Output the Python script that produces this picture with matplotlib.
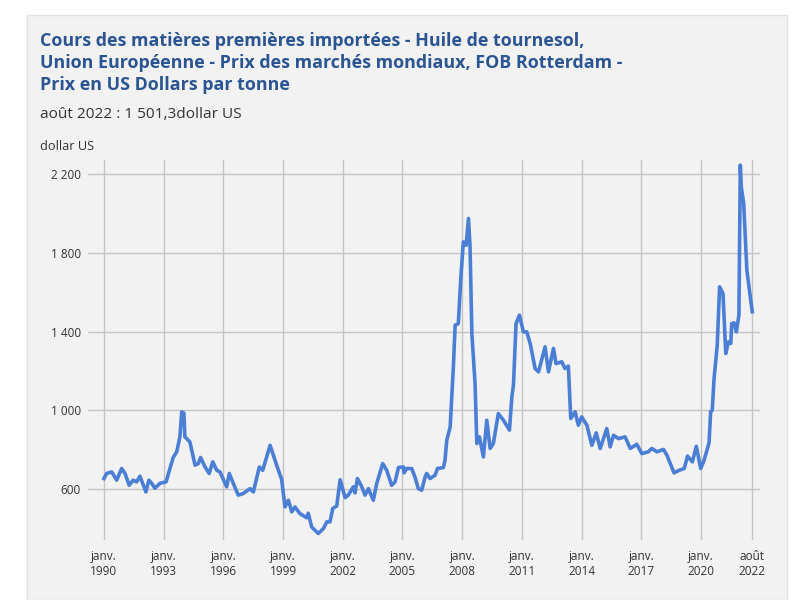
import matplotlib.pyplot as plt
from matplotlib.patches import Rectangle

# valeurs (annee decimale, dollar US)
annees = [1990.00, 1990.14, 1990.39, 1990.64, 1990.89, 1991.06, 1991.27, 1991.47, 1991.64, 1991.81,
          1992.11, 1992.26, 1992.40, 1992.56, 1992.82, 1993.12, 1993.32, 1993.48, 1993.66, 1993.82,
          1993.91, 1994.02, 1994.07, 1994.32, 1994.58, 1994.74, 1994.86, 1995.08, 1995.29, 1995.47,
          1995.67, 1995.83, 1996.17, 1996.30, 1996.54, 1996.75, 1997.00, 1997.34, 1997.51, 1997.81,
          1997.98, 1998.35, 1998.68, 1998.93, 1999.10, 1999.27, 1999.44, 1999.60, 1999.85, 2000.19,
          2000.27, 2000.44, 2000.77, 2001.03, 2001.20, 2001.36, 2001.50, 2001.70, 2001.87, 2002.12,
          2002.28, 2002.53, 2002.62, 2002.74, 2002.96, 2003.12, 2003.29, 2003.54, 2003.71, 2004.01,
          2004.21, 2004.46, 2004.63, 2004.80, 2005.05, 2005.08, 2005.22, 2005.47, 2005.63, 2005.80,
          2005.97, 2006.14, 2006.22, 2006.39, 2006.64, 2006.76, 2007.06, 2007.14, 2007.23, 2007.40,
          2007.56, 2007.65, 2007.81, 2007.93, 2008.06, 2008.20, 2008.32, 2008.40, 2008.49, 2008.65,
          2008.74, 2008.87, 2009.07, 2009.24, 2009.41, 2009.57, 2009.82, 2010.08, 2010.38, 2010.50,
          2010.58, 2010.71, 2010.88, 2011.08, 2011.25, 2011.42, 2011.67, 2011.84, 2012.17, 2012.34,
          2012.59, 2012.72, 2013.01, 2013.17, 2013.34, 2013.46, 2013.68, 2013.84, 2014.01, 2014.27,
          2014.52, 2014.74, 2014.94, 2015.27, 2015.44, 2015.61, 2015.86, 2016.19, 2016.45, 2016.78,
          2017.03, 2017.36, 2017.53, 2017.79, 2018.12, 2018.29, 2018.65, 2018.91, 2019.16, 2019.33,
          2019.57, 2019.77, 2019.99, 2020.16, 2020.41, 2020.49, 2020.57, 2020.66, 2020.82, 2020.94,
          2021.11, 2021.25, 2021.38, 2021.50, 2021.55, 2021.67, 2021.78, 2021.91, 2021.98, 2022.03,
          2022.15, 2022.31, 2022.58]
prix = [654, 680, 688, 646, 705, 680, 620, 646, 637, 666,
        586, 646, 630, 605, 630, 637, 705, 761, 790, 866,
        993, 986, 866, 840, 722, 730, 761, 713, 680, 739,
        696, 688, 612, 680, 620, 570, 578, 603, 586, 713,
        696, 823, 722, 650, 510, 544, 485, 510, 476, 455,
        478, 408, 375, 400, 434, 434, 502, 515, 648, 557,
        570, 612, 581, 654, 612, 570, 603, 544, 629, 730,
        696, 620, 637, 710, 713, 683, 705, 705, 662, 603,
        595, 662, 680, 654, 671, 705, 710, 747, 849, 916,
        1221, 1433, 1441, 1662, 1856, 1839, 1975, 1830, 1391, 1137,
        832, 866, 764, 950, 807, 832, 984, 950, 900, 1069,
        1128, 1441, 1484, 1399, 1399, 1340, 1213, 1196, 1323, 1196,
        1315, 1238, 1247, 1213, 1225, 959, 993, 925, 967, 925,
        823, 886, 807, 908, 815, 874, 857, 866, 807, 828,
        781, 790, 807, 790, 802, 773, 683, 696, 705, 768,
        739, 818, 705, 747, 836, 993, 1001, 1160, 1330, 1628,
        1594, 1289, 1348, 1340, 1441, 1445, 1399, 1484, 2246, 2135,
        2051, 1712, 1501.3]

ticks_x = [1990, 1993, 1996, 1999, 2002, 2005, 2008, 2011, 2014, 2017, 2020, 2022.583]
labels_x = ["janv.\n1990", "janv.\n1993", "janv.\n1996", "janv.\n1999", "janv.\n2002",
            "janv.\n2005", "janv.\n2008", "janv.\n2011", "janv.\n2014", "janv.\n2017",
            "janv.\n2020", "août\n2022"]
ticks_y = [600, 1000, 1400, 1800, 2200]
labels_y = ["600", "1 000", "1 400", "1 800", "2 200"]

plt.rcParams['font.family'] = ['Open Sans', 'DejaVu Sans']

W, H = 795, 600
fig = plt.figure(figsize=(W / 100, H / 100), dpi=100)
fig.patch.set_facecolor('white')

# panneau gris derriere tout
fig.patches.append(Rectangle((27 / W, 0), 760 / W, 585 / H, transform=fig.transFigure,
                             facecolor='#f2f2f2', edgecolor='#e2e2e2', lw=1, zorder=-5))

ax = fig.add_axes([88 / W, 60 / H, 672 / W, 380 / H])
ax.set_zorder(2)
ax.set_facecolor('none')
ax.plot(annees, prix, color='#4a7fd5', lw=2.6, solid_joinstyle='round', zorder=3)

ax.set_xlim(1989.2, 2022.97)
ax.set_ylim(342, 2272)
ax.set_xticks(ticks_x)
ax.set_xticklabels(labels_x, fontsize=8.5, color='#333333', linespacing=1.2)
ax.set_yticks(ticks_y)
ax.set_yticklabels(labels_y, fontsize=8.5, color='#333333')
ax.tick_params(length=0, pad=5)
ax.tick_params(axis='x', pad=7)
ax.grid(True, color='#c4c4c4', lw=1)
ax.set_axisbelow(True)
for s in ax.spines.values():
    s.set_visible(False)

titre = ("Cours des matières premières importées - Huile de tournesol,\n"
         "Union Européenne - Prix des marchés mondiaux, FOB Rotterdam -\n"
         "Prix en US Dollars par tonne")
fig.text(40 / W, 1 - 32 / H, titre, fontsize=12.85, fontweight='bold', color='#2a5592',
         va='top', ha='left', linespacing=1.3)
fig.text(40 / W, 1 - 115 / H, "août 2022 : 1 501,3dollar US", fontsize=11.1,
         color='#333333', va='center', ha='left')
fig.text(40 / W, 1 - 147 / H, "dollar US", fontsize=9.2, color='#333333', va='center', ha='left')

fig.savefig('out.png', dpi=100)
